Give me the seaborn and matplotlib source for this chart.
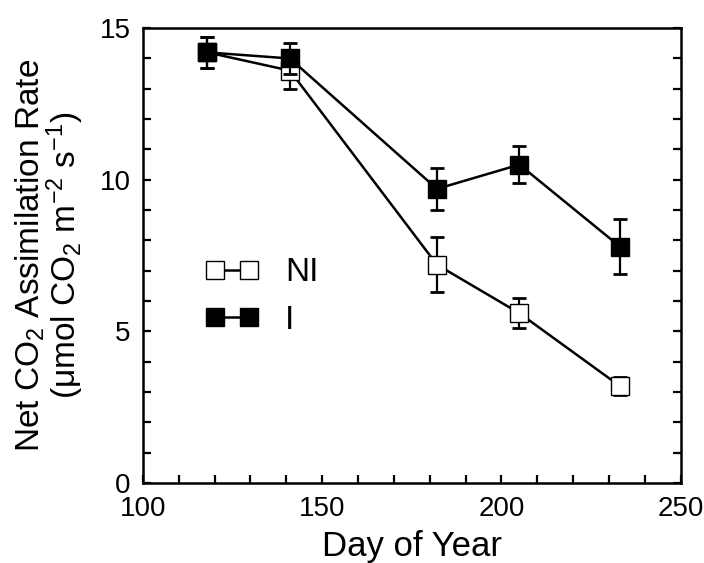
import numpy as np
import pandas as pd
import seaborn as sns
import matplotlib.pyplot as plt
from matplotlib.ticker import MultipleLocator

sns.set_style('ticks', rc={'text.color': 'black', 'axes.labelcolor': 'black',
                           'xtick.color': 'black', 'ytick.color': 'black',
                           'axes.edgecolor': 'black'})
plt.rcParams['font.family'] = ['Liberation Sans', 'DejaVu Sans']
plt.rcParams['mathtext.fontset'] = 'custom'
plt.rcParams['mathtext.rm'] = 'Liberation Sans'
plt.rcParams['mathtext.it'] = 'Liberation Sans'
plt.rcParams['mathtext.default'] = 'regular'

# data
day = [118, 141, 182, 205, 233]
ni_rate = [14.2, 13.6, 7.2, 5.6, 3.2]
ni_err = [0.5, 0.6, 0.9, 0.5, 0.3]
i_rate = [14.2, 14.0, 9.7, 10.5, 7.8]
i_err = [0.5, 0.5, 0.7, 0.6, 0.9]

fig = plt.figure(figsize=(7.04, 5.63), dpi=100)
ax = fig.add_axes([0.203, 0.142, 0.764, 0.808])

series = [('NI', ni_rate, ni_err, 'white', 2), ('I', i_rate, i_err, 'black', 3)]
for name, rate, err, fc, z in series:
    ax.errorbar(day, rate, yerr=err, fmt='none', ecolor='black', elinewidth=1.6,
                capsize=5, capthick=2.0, zorder=z)
    sns.lineplot(x=day, y=rate, ax=ax, color='black', linewidth=1.8, marker='s',
                 markersize=13, markerfacecolor=fc, markeredgecolor='black',
                 markeredgewidth=1.0, label=name, zorder=z + 0.5)

ax.set_xlim(100, 250)
ax.set_ylim(0, 15)
ax.xaxis.set_major_locator(MultipleLocator(50))
ax.xaxis.set_minor_locator(MultipleLocator(10))
ax.yaxis.set_major_locator(MultipleLocator(5))
ax.yaxis.set_minor_locator(MultipleLocator(1))
ax.tick_params(which='both', direction='in', width=1.6, length=6, labelsize=20,
               right=True, top=False, pad=9)
for sp in ax.spines.values():
    sp.set_visible(True)
    sp.set_linewidth(1.8)

ax.set_xlabel('Day of Year', fontsize=25, labelpad=6)
ax.set_ylabel('Net CO$_2$ Assimilation Rate\n(μmol CO$_2$ m$^{-2}$ s$^{-1}$)',
              fontsize=24, labelpad=10, linespacing=0.92)

ax.legend(loc='center left', bbox_to_anchor=(0.06, 0.41), frameon=False,
          numpoints=2, handlelength=1.6, fontsize=24, labelspacing=0.5,
          handletextpad=0.8)

plt.savefig('out.png', dpi=100)
